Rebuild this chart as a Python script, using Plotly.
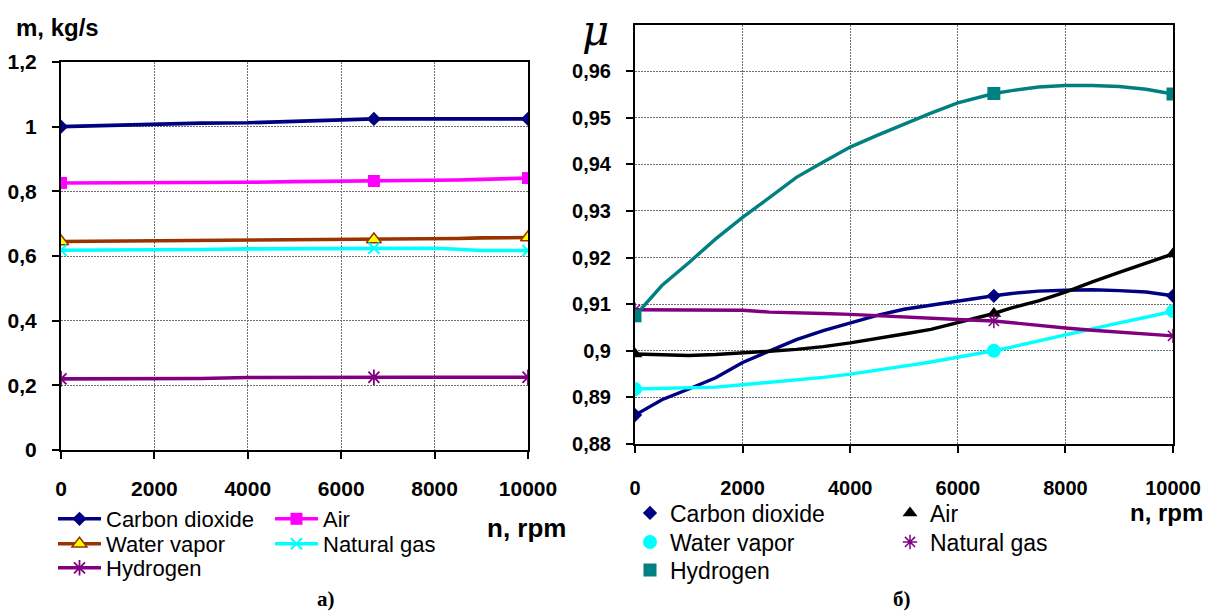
import plotly.graph_objects as go

# ---------------- data ----------------
gases = ["Carbon dioxide", "Air", "Water vapor", "Natural gas", "Hydrogen"]

# mass flow rate m, kg/s versus rotor speed n, rpm
n_mass = [0, 1000, 2000, 3000, 4000, 5000, 6000, 6700, 7500, 8000, 8500, 9000, 10000]
m_co2 = [1.000, 1.004, 1.008, 1.011, 1.012, 1.016, 1.022, 1.024, 1.024, 1.024, 1.024, 1.024, 1.024]
m_air = [0.826, 0.826, 0.826, 0.826, 0.828, 0.830, 0.831, 0.832, 0.832, 0.834, 0.835, 0.837, 0.841]
m_vapor = [0.645, 0.646, 0.648, 0.648, 0.649, 0.650, 0.651, 0.651, 0.651, 0.652, 0.654, 0.656, 0.657]
m_natgas = [0.618, 0.618, 0.619, 0.620, 0.622, 0.623, 0.624, 0.624, 0.624, 0.624, 0.621, 0.617, 0.617]
m_h2 = [0.220, 0.220, 0.220, 0.221, 0.224, 0.225, 0.225, 0.225, 0.225, 0.225, 0.225, 0.225, 0.225]
mark_n_mass = [0, 6700, 10000]

# flow coefficient mu versus rotor speed n, rpm
n_mu = [0, 500, 1000, 1500, 2000, 2500, 3000, 3500, 4000, 4500, 5000,
        5500, 6000, 6670, 7000, 7500, 8000, 8500, 9000, 9500, 10000]
mu_co2 = [0.8862, 0.8895, 0.8918, 0.8942, 0.8975, 0.9000, 0.9024, 0.9043, 0.9060, 0.9076, 0.9089,
          0.9098, 0.9107, 0.9118, 0.9123, 0.9128, 0.9130, 0.9131, 0.9129, 0.9126, 0.9118]
mu_air = [0.8993, 0.8992, 0.8990, 0.8992, 0.8995, 0.8999, 0.9003, 0.9009, 0.9017, 0.9026, 0.9036,
          0.9046, 0.9060, 0.9080, 0.9092, 0.9107, 0.9126, 0.9148, 0.9168, 0.9188, 0.9208]
mu_vapor = [0.8918, 0.8919, 0.8920, 0.8922, 0.8927, 0.8932, 0.8937, 0.8943, 0.8950, 0.8958, 0.8967,
            0.8976, 0.8986, 0.9000, 0.9008, 0.9021, 0.9035, 0.9048, 0.9060, 0.9072, 0.9085]
mu_natgas = [0.9088, 0.9088, 0.9088, 0.9088, 0.9087, 0.9083, 0.9082, 0.9080, 0.9078, 0.9075, 0.9073,
             0.9070, 0.9067, 0.9064, 0.9060, 0.9054, 0.9049, 0.9044, 0.9040, 0.9035, 0.9032]
mu_h2 = [0.9075, 0.9140, 0.9189, 0.9240, 0.9286, 0.9330, 0.9372, 0.9405, 0.9437, 0.9462, 0.9486,
         0.9510, 0.9532, 0.9552, 0.9558, 0.9566, 0.9569, 0.9569, 0.9567, 0.9561, 0.9551]
mark_n_mu = [0, 6670, 10000]

n_ticks = [0, 2000, 4000, 6000, 8000, 10000]
m_ticks = [0, 0.2, 0.4, 0.6, 0.8, 1.0, 1.2]
mu_ticks = [0.88, 0.89, 0.90, 0.91, 0.92, 0.93, 0.94, 0.95, 0.96]

# ---------------- styles ----------------
W, H = 1208, 612
SANS = "Liberation Sans, Arial, sans-serif"
SERIF = "Liberation Serif, Times New Roman, serif"

mass_series = [m_co2, m_air, m_vapor, m_natgas, m_h2]
mu_series = [mu_co2, mu_air, mu_vapor, mu_natgas, mu_h2]

mass_style = [
    dict(line="#000080", marker=dict(symbol="diamond", size=11, color="#000080",
                                     line=dict(color="#000080", width=0))),
    dict(line="#FF00FF", marker=dict(symbol="square", size=12, color="#FF00FF",
                                     line=dict(color="#FF00FF", width=0))),
    dict(line="#993300", marker=dict(symbol="triangle-up", size=13, color="#FFFF00",
                                     line=dict(color="#993300", width=1.5))),
    dict(line="#00FFFF", marker=dict(symbol="x-thin-open", size=11, color="#00FFFF",
                                     line=dict(color="#00FFFF", width=2))),
    dict(line="#800080", marker=dict(symbol="asterisk-open", size=13, color="#800080",
                                     line=dict(color="#800080", width=1.8))),
]
mu_style = [
    dict(line="#000080", marker=dict(symbol="diamond", size=11, color="#000080",
                                     line=dict(color="#000080", width=0))),
    dict(line="#000000", marker=dict(symbol="triangle-up", size=13, color="#000000",
                                     line=dict(color="#000000", width=0))),
    dict(line="#00FFFF", marker=dict(symbol="circle", size=14, color="#00FFFF",
                                     line=dict(color="#00FFFF", width=0))),
    dict(line="#800080", marker=dict(symbol="asterisk-open", size=12, color="#800080",
                                     line=dict(color="#800080", width=1.5))),
    dict(line="#008080", marker=dict(symbol="square", size=13, color="#008080",
                                     line=dict(color="#008080", width=0))),
]


def px_x(p):
    return p / W


def px_y(p):
    return 1 - p / H


fig = go.Figure()

# left panel: mass flow rate (lines with markers at selected speeds)
for k, (name, ys, st) in enumerate(zip(gases, mass_series, mass_style)):
    sel = [i for i, n in enumerate(n_mass) if n in mark_n_mass]
    fig.add_trace(go.Scatter(
        x=n_mass, y=ys, name=name, mode="lines+markers",
        line=dict(color=st["line"], width=3.6),
        marker=st["marker"],
        selectedpoints=sel,
        selected=dict(marker=dict(opacity=1)),
        unselected=dict(marker=dict(opacity=0)),
        xaxis="x", yaxis="y",
        legend="legend" if k == 0 else f"legend{k + 1}",
        hoverinfo="skip",
    ))

# right panel: flow coefficient (lines without legend, markers carry the legend)
for k, (name, ys, st) in enumerate(zip(gases, mu_series, mu_style)):
    fig.add_trace(go.Scatter(
        x=n_mu, y=ys, mode="lines", showlegend=False,
        line=dict(color=st["line"], width=3.4),
        xaxis="x2", yaxis="y2", hoverinfo="skip",
    ))
for k, (name, ys, st) in enumerate(zip(gases, mu_series, mu_style)):
    mx = [n for n in n_mu if n in mark_n_mu]
    my = [y for n, y in zip(n_mu, ys) if n in mark_n_mu]
    fig.add_trace(go.Scatter(
        x=mx, y=my, name=name, mode="markers", marker=st["marker"],
        xaxis="x2", yaxis="y2", legend=f"legend{k + 6}", hoverinfo="skip",
    ))

grid = dict(showgrid=True, gridcolor="#6e6e6e", gridwidth=1, griddash="2px,1px",
            zeroline=False, showline=True, linecolor="#000000", linewidth=2, mirror=True,
            ticks="outside", ticklen=7, tickwidth=1.5, tickcolor="#000000")

fig.update_layout(
    width=W, height=H,
    margin=dict(l=0, r=0, t=0, b=0, autoexpand=False),
    paper_bgcolor="white", plot_bgcolor="white",
    separators=", ",
    font=dict(family=SANS, color="#000000"),
    xaxis=dict(domain=[px_x(61), px_x(528)], range=[0, 10000], tickvals=n_ticks,
               tickformat="d", anchor="y", ticklabelstandoff=12,
               tickfont=dict(family=SANS, size=21, weight="bold"), **grid),
    yaxis=dict(domain=[px_y(450), px_y(62)], range=[0, 1.2], tickvals=m_ticks,
               anchor="x", ticklabelstandoff=11,
               tickfont=dict(family=SANS, size=21, weight="bold"), **grid),
    xaxis2=dict(domain=[px_x(635), px_x(1173)], range=[0, 10000], tickvals=n_ticks,
                tickformat="d", anchor="y2", ticklabelstandoff=18,
                tickfont=dict(family=SANS, size=20, weight="bold"), **grid),
    yaxis2=dict(domain=[px_y(444), px_y(24.5)], range=[0.88, 0.97], tickvals=mu_ticks,
                anchor="x2", ticklabelstandoff=11,
                tickfont=dict(family=SANS, size=20, weight="bold"), **grid),
)

# one legend box per entry, laid out in two columns under each panel
left_cols = [53, 270]
left_rows = [519, 544, 568]
right_cols = [630, 890]
right_rows = [513, 542, 570]
slots = [(0, 0), (1, 0), (0, 1), (1, 1), (0, 2)]
legends = {}
for k, (c, r) in enumerate(slots):
    legends["legend" if k == 0 else f"legend{k + 1}"] = dict(
        x=px_x(left_cols[c]), y=px_y(left_rows[r]), xanchor="left", yanchor="middle",
        bgcolor="rgba(0,0,0,0)", borderwidth=0, itemwidth=43,
        font=dict(family=SANS, size=22, color="#000000"))
    legends[f"legend{k + 6}"] = dict(
        x=px_x(right_cols[c]), y=px_y(right_rows[r]), xanchor="left", yanchor="middle",
        bgcolor="rgba(0,0,0,0)", borderwidth=0, itemwidth=30,
        font=dict(family=SANS, size=23, color="#000000"))
fig.update_layout(**legends)

labels = [
    dict(text="<b>m, kg/s</b>", x=57, y=28, font=dict(family=SANS, size=24)),
    dict(text="<i>μ</i>", x=595, y=30, font=dict(family="DejaVu Serif, serif", size=42)),
    dict(text="<b>n, rpm</b>", x=526, y=528, font=dict(family=SANS, size=26)),
    dict(text="<b>n, rpm</b>", x=1166, y=512, font=dict(family=SANS, size=24)),
    dict(text="<b>а)</b>", x=326, y=599, font=dict(family=SERIF, size=21)),
    dict(text="<b>б)</b>", x=902, y=599, font=dict(family=SERIF, size=21)),
]
for lab in labels:
    fig.add_annotation(text=lab["text"], x=px_x(lab["x"]), y=px_y(lab["y"]),
                       xref="paper", yref="paper", xanchor="center", yanchor="middle",
                       showarrow=False, borderpad=0,
                       font=dict(color="#000000", **lab["font"]))

fig.write_html("out.html")
